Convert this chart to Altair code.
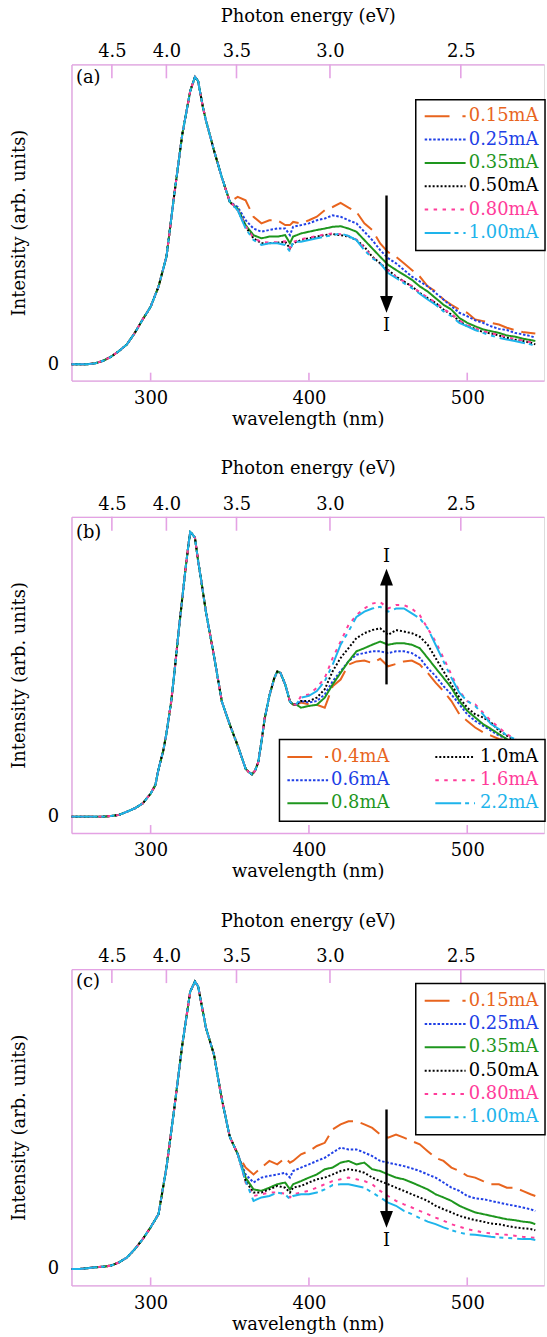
import altair as alt
import pandas as pd

FONT = "DejaVu Serif"
FS = 18
PINK = "#E4A2E4"
COLORS = ["#E8641E", "#2040E6", "#1E961E", "#000000", "#FF3C9A", "#1EB4EB"]
DASHES = [[22, 8], [2.5, 1.8], [1, 0], [2, 2], [3.5, 5.5], [26, 4, 4, 5, 4, 5]]
LEGEND_DASHES = [[25, 13], [2.5, 1.8], [1, 0], [2, 2], [3.5, 5.5], [26, 4, 4, 5, 4, 5]]

ENERGY_TICKS = [4.5, 4.0, 3.5, 3.0, 2.5]
WL_TICKS = [300, 400, 500]
HC = 1239.84

LABELS_AC = ["0.15mA", "0.25mA", "0.35mA", "0.50mA", "0.80mA", "1.00mA"]
LABELS_B = ["0.4mA", "0.6mA", "0.8mA", "1.0mA", "1.6mA", "2.2mA"]

# ---------------- panel (a) ----------------
WL_A_COMMON = [250, 255, 260, 265, 270, 275, 280, 285, 290, 295, 300, 305, 310, 315, 320, 325, 328,
               330, 333, 335, 340, 345, 350]
A_COMMON = [0.0, 0.0, 0.0, 0.003, 0.012, 0.026, 0.046, 0.069, 0.109, 0.156, 0.2, 0.27, 0.374, 0.593,
            0.80, 0.95, 1.0, 0.985, 0.895, 0.847, 0.744, 0.65, 0.565]
WL_A_TAIL = [355, 360, 365, 370, 375, 380, 385, 388, 390, 395, 400, 405, 410, 415, 420, 425, 430, 435,
             440, 445, 450, 455, 460, 465, 470, 475, 480, 485, 490, 495, 500, 505, 510, 515, 520, 525,
             530, 535, 540, 543]
A_015 = [0.582, 0.570, 0.513, 0.490, 0.501, 0.501, 0.484, 0.484, 0.495, 0.490, 0.501, 0.513, 0.536,
         0.547, 0.561, 0.545, 0.530, 0.490, 0.467, 0.42, 0.39, 0.374, 0.351, 0.328, 0.305, 0.271,
         0.253, 0.225, 0.207, 0.190, 0.179, 0.156, 0.150, 0.144, 0.138, 0.127, 0.119, 0.112, 0.109, 0.107]
A_025 = [0.547, 0.501, 0.472, 0.461, 0.467, 0.472, 0.472, 0.449, 0.478, 0.484, 0.490, 0.501, 0.507,
         0.518, 0.513, 0.501, 0.490, 0.461, 0.432, 0.397, 0.369, 0.351, 0.328, 0.305, 0.288, 0.271,
         0.248, 0.225, 0.202, 0.179, 0.167, 0.153, 0.144, 0.132, 0.123, 0.119, 0.109, 0.104, 0.098, 0.092]
A_035 = [0.541, 0.484, 0.449, 0.438, 0.444, 0.444, 0.449, 0.421, 0.444, 0.455, 0.461, 0.467, 0.472,
         0.478, 0.480, 0.472, 0.461, 0.432, 0.403, 0.374, 0.346, 0.328, 0.311, 0.294, 0.271, 0.253,
         0.230, 0.207, 0.190, 0.161, 0.144, 0.132, 0.121, 0.115, 0.109, 0.100, 0.096, 0.089, 0.084, 0.081]
A_050 = [0.536, 0.478, 0.438, 0.421, 0.421, 0.423, 0.426, 0.403, 0.421, 0.432, 0.438, 0.444, 0.449,
         0.453, 0.449, 0.444, 0.432, 0.409, 0.374, 0.351, 0.328, 0.305, 0.288, 0.271, 0.248, 0.230,
         0.213, 0.190, 0.173, 0.150, 0.132, 0.123, 0.112, 0.107, 0.100, 0.092, 0.086, 0.081, 0.075, 0.069]
A_080 = [0.540, 0.480, 0.440, 0.425, 0.423, 0.425, 0.428, 0.405, 0.425, 0.435, 0.440, 0.446, 0.452,
         0.455, 0.452, 0.446, 0.434, 0.405, 0.372, 0.350, 0.326, 0.304, 0.288, 0.272, 0.250, 0.232,
         0.215, 0.192, 0.175, 0.152, 0.136, 0.125, 0.115, 0.108, 0.102, 0.094, 0.088, 0.083, 0.077, 0.072]
A_100 = [0.536, 0.472, 0.432, 0.415, 0.421, 0.421, 0.415, 0.392, 0.426, 0.426, 0.432, 0.438, 0.444,
         0.449, 0.455, 0.446, 0.432, 0.397, 0.369, 0.351, 0.317, 0.300, 0.282, 0.265, 0.245, 0.225,
         0.207, 0.184, 0.167, 0.144, 0.132, 0.119, 0.109, 0.100, 0.092, 0.086, 0.081, 0.075, 0.069, 0.063]

# ---------------- panel (b) ----------------
WL_B_COMMON = [250, 255, 260, 265, 270, 275, 280, 285, 290, 295, 300, 303, 305, 308, 310, 313, 315,
               318, 320, 322, 324, 325, 326, 328, 330, 332, 335, 340, 345, 350, 355, 360, 362, 364,
               366, 368, 370, 372, 375, 378, 380, 382, 385, 388, 390, 392]
B_COMMON = [0, 0, 0, 0, 0, 0.002, 0.006, 0.017, 0.029, 0.046, 0.08, 0.11, 0.165, 0.23, 0.29, 0.40,
            0.50, 0.66, 0.76, 0.86, 0.95, 0.99, 0.985, 0.97, 0.89, 0.82, 0.71, 0.56, 0.40, 0.32,
            0.247, 0.167, 0.155, 0.147, 0.16, 0.19, 0.26, 0.34, 0.42, 0.48, 0.505, 0.50, 0.46,
            0.40, 0.39, 0.39]
WL_B_TAIL = [395, 400, 405, 410, 415, 420, 425, 430, 435, 440, 445, 450, 455, 460, 465, 470, 475,
             480, 485, 490, 495, 500, 505, 510, 515, 520, 525, 530, 535, 540, 545]
B_04 = [0.397, 0.391, 0.389, 0.379, 0.454, 0.477, 0.529, 0.540, 0.543, 0.534, 0.549, 0.523, 0.531,
        0.540, 0.543, 0.529, 0.500, 0.466, 0.437, 0.402, 0.356, 0.333, 0.310, 0.293, 0.282, 0.270,
        0.264, 0.241, 0.224, 0.207, 0.190]
B_06 = [0.402, 0.397, 0.402, 0.425, 0.471, 0.506, 0.540, 0.563, 0.569, 0.575, 0.575, 0.569, 0.575,
        0.575, 0.569, 0.552, 0.517, 0.489, 0.454, 0.425, 0.391, 0.356, 0.333, 0.316, 0.299, 0.282,
        0.270, 0.253, 0.236, 0.218, 0.201]
B_08 = [0.379, 0.385, 0.389, 0.414, 0.460, 0.500, 0.540, 0.575, 0.586, 0.598, 0.609, 0.598, 0.603,
        0.603, 0.598, 0.586, 0.552, 0.517, 0.483, 0.448, 0.402, 0.368, 0.345, 0.322, 0.305, 0.287,
        0.270, 0.253, 0.236, 0.218, 0.201]
B_10 = [0.402, 0.402, 0.414, 0.443, 0.506, 0.552, 0.586, 0.621, 0.638, 0.649, 0.655, 0.632, 0.649,
        0.644, 0.638, 0.626, 0.598, 0.552, 0.506, 0.460, 0.414, 0.379, 0.356, 0.345, 0.328, 0.299,
        0.282, 0.264, 0.247, 0.230, 0.213]
B_16 = [0.420, 0.425, 0.448, 0.483, 0.552, 0.609, 0.667, 0.701, 0.724, 0.741, 0.747, 0.724, 0.736,
        0.736, 0.724, 0.701, 0.655, 0.609, 0.552, 0.494, 0.437, 0.402, 0.391, 0.362, 0.333, 0.310,
        0.287, 0.270, 0.253, 0.236, 0.218]
B_22 = [0.414, 0.420, 0.437, 0.471, 0.529, 0.598, 0.644, 0.695, 0.713, 0.724, 0.730, 0.713, 0.724,
        0.724, 0.707, 0.690, 0.655, 0.598, 0.540, 0.483, 0.431, 0.402, 0.385, 0.356, 0.322, 0.305,
        0.282, 0.270, 0.253, 0.236, 0.218]

# ---------------- panel (c) ----------------
WL_C_COMMON = [250, 255, 260, 265, 270, 275, 280, 285, 290, 295, 300, 305, 310, 315, 320, 325, 328,
               330, 333, 335, 340, 345, 350, 355]
C_COMMON = [0, 0, 0.003, 0.006, 0.008, 0.012, 0.023, 0.040, 0.069, 0.104, 0.145, 0.191, 0.353, 0.561,
            0.780, 0.965, 1.0, 0.983, 0.896, 0.838, 0.746, 0.59, 0.46, 0.40]
WL_C_TAIL = [360, 365, 370, 375, 380, 385, 388, 390, 395, 400, 405, 410, 415, 420, 425, 430, 435,
             440, 445, 450, 455, 460, 465, 470, 475, 480, 485, 490, 495, 500, 505, 510, 515, 520,
             525, 530, 535, 540, 543]
C_015 = [0.353, 0.329, 0.353, 0.376, 0.364, 0.387, 0.370, 0.376, 0.399, 0.410, 0.428, 0.439, 0.486,
         0.503, 0.514, 0.514, 0.503, 0.491, 0.468, 0.457, 0.468, 0.457, 0.445, 0.434, 0.410, 0.387,
         0.376, 0.353, 0.341, 0.324, 0.318, 0.306, 0.295, 0.295, 0.283, 0.283, 0.272, 0.260, 0.254]
C_025 = [0.329, 0.301, 0.318, 0.324, 0.329, 0.335, 0.318, 0.341, 0.353, 0.364, 0.376, 0.387, 0.405,
         0.422, 0.416, 0.416, 0.405, 0.393, 0.376, 0.370, 0.364, 0.358, 0.350, 0.341, 0.329, 0.318,
         0.301, 0.283, 0.272, 0.254, 0.246, 0.243, 0.237, 0.231, 0.225, 0.220, 0.214, 0.208, 0.202]
C_035 = [0.318, 0.277, 0.272, 0.283, 0.295, 0.301, 0.277, 0.295, 0.306, 0.318, 0.329, 0.347, 0.353,
         0.370, 0.376, 0.364, 0.370, 0.347, 0.341, 0.329, 0.318, 0.312, 0.301, 0.289, 0.277, 0.260,
         0.249, 0.237, 0.220, 0.208, 0.197, 0.191, 0.185, 0.179, 0.173, 0.170, 0.165, 0.162, 0.156]
C_050 = [0.306, 0.266, 0.266, 0.277, 0.289, 0.283, 0.266, 0.283, 0.289, 0.301, 0.312, 0.318, 0.329,
         0.341, 0.347, 0.343, 0.335, 0.318, 0.306, 0.295, 0.283, 0.272, 0.260, 0.249, 0.237, 0.220,
         0.208, 0.197, 0.185, 0.177, 0.170, 0.165, 0.158, 0.156, 0.150, 0.145, 0.142, 0.139, 0.135]
C_080 = [0.301, 0.254, 0.260, 0.266, 0.266, 0.262, 0.249, 0.260, 0.266, 0.272, 0.283, 0.295, 0.306,
         0.312, 0.318, 0.312, 0.306, 0.295, 0.272, 0.254, 0.237, 0.225, 0.214, 0.202, 0.191, 0.179,
         0.168, 0.156, 0.147, 0.139, 0.133, 0.127, 0.124, 0.121, 0.119, 0.116, 0.112, 0.110, 0.108]
C_100 = [0.306, 0.237, 0.249, 0.254, 0.266, 0.260, 0.243, 0.254, 0.260, 0.260, 0.266, 0.277, 0.292,
         0.295, 0.295, 0.289, 0.283, 0.266, 0.249, 0.231, 0.220, 0.202, 0.191, 0.177, 0.165, 0.156,
         0.145, 0.135, 0.127, 0.121, 0.119, 0.116, 0.112, 0.110, 0.108, 0.106, 0.104, 0.104, 0.101]

# arrow annotations (shaft start, shaft end, head centre, "I" position) at ARROW_WL
ARROW_WL = 449
ARROW_A = [0.587, 0.23, 0.208, 0.133]
ARROW_B = [0.46, 0.81, 0.833, 0.902]
ARROW_C = [0.555, 0.20, 0.173, 0.099]

# ---------------- layout ----------------
W, H = 476, 318.5
XS = alt.Scale(domain=[250, 548.5], nice=False, zero=False)
YS = alt.Scale(domain=[-0.057, 1.043], nice=False, zero=False)
CS = alt.Scale(domain=list(range(6)), range=COLORS)
DS = alt.Scale(domain=list(range(6)), range=DASHES)
ONE = pd.DataFrame({"a": [0]})
TRI_DOWN = "M-1,-1.3L1,-1.3L0,1.3Z"
TRI_UP = "M-1,1.3L1,1.3L0,-1.3Z"


def long_df(wl_c, v_c, wl_t, tails):
    rows = []
    for k, tail in enumerate(tails):
        for w, v in zip(list(wl_c) + list(wl_t), list(v_c) + list(tail)):
            rows.append({"wl": w, "v": v, "k": k})
    return pd.DataFrame(rows)


def panel(tag, labels, df, box, items, arrow, tag_y, up):
    x_axis = alt.Axis(orient="bottom", values=WL_TICKS, format="d", ticks=False, grid=False,
                      domain=True, domainColor=PINK, domainWidth=1.3,
                      labelFont=FONT, labelFontSize=FS, labelColor="black", labelPadding=9,
                      title="wavelength (nm)", titleFont=FONT, titleFontSize=FS,
                      titleFontWeight="normal", titleColor="black", titlePadding=3)
    y_axis = alt.Axis(values=[0], ticks=False, grid=False, domain=True, domainColor=PINK,
                      domainWidth=1.3, labelFont=FONT, labelFontSize=FS, labelColor="black",
                      labelPadding=13, title="Intensity (arb. units)", titleFont=FONT,
                      titleFontSize=FS, titleFontWeight="normal", titleColor="black",
                      titlePadding=19)
    top_axis = alt.Axis(orient="top", values=[HC / e for e in ENERGY_TICKS],
                        labelExpr="format(1239.84/datum.value, '.1f')", ticks=False, grid=False,
                        domain=True, domainColor=PINK, domainWidth=1.3,
                        labelFont=FONT, labelFontSize=FS, labelColor="black", labelPadding=3.5,
                        title="Photon energy (eV)", titleFont=FONT, titleFontSize=FS,
                        titleFontWeight="normal", titleColor="black", titlePadding=18)

    lines = alt.Chart(df).mark_line(strokeWidth=2).encode(
        x=alt.X("wl:Q", scale=XS, axis=x_axis),
        y=alt.Y("v:Q", scale=YS, axis=y_axis),
        color=alt.Color("k:N", scale=CS, legend=None),
        strokeDash=alt.StrokeDash("k:N", scale=DS, legend=None),
    )

    top_df = pd.DataFrame({"E": ENERGY_TICKS, "nm": [HC / e for e in ENERGY_TICKS]})
    top = alt.Chart(top_df).mark_rule(color=PINK, strokeWidth=1.6).encode(
        x=alt.X("nm:Q", scale=XS, axis=top_axis), y=alt.value(0), y2=alt.value(14))
    bot = alt.Chart(pd.DataFrame({"t": WL_TICKS})).mark_rule(color=PINK, strokeWidth=1.6).encode(
        x=alt.X("t:Q", scale=XS, axis=None), y=alt.value(H), y2=alt.value(H - 8))

    bx0, by0, by1 = box
    layers = [lines, bot, top]
    layers.append(alt.Chart(ONE).mark_rect(fill="white", stroke="black", strokeWidth=1.5).encode(
        x=alt.value(bx0), x2=alt.value(W + 1), y=alt.value(by0), y2=alt.value(by1)))
    for k, (x0, x1, tx, ty) in enumerate(items):
        layers.append(alt.Chart(ONE).mark_rule(strokeWidth=2, color=COLORS[k],
                                               strokeDash=LEGEND_DASHES[k]).encode(
            x=alt.value(x0), x2=alt.value(x1), y=alt.value(ty)))
        layers.append(alt.Chart(ONE).mark_text(align="left", baseline="middle", font=FONT,
                                               fontSize=FS, color=COLORS[k]).encode(
            x=alt.value(tx), y=alt.value(ty), text=alt.value(labels[k])))

    adf = pd.DataFrame({"x": [ARROW_WL], "y1": [arrow[0]], "y2": [arrow[1]],
                        "yh": [arrow[2]], "yi": [arrow[3]]})
    layers.append(alt.Chart(adf).mark_rule(color="black", strokeWidth=2.4).encode(
        x=alt.X("x:Q", scale=XS, axis=None), y=alt.Y("y1:Q", scale=YS, axis=None), y2="y2:Q"))
    layers.append(alt.Chart(adf).mark_point(shape=TRI_UP if up else TRI_DOWN, filled=True,
                                            size=169, color="black", opacity=1).encode(
        x=alt.X("x:Q", scale=XS, axis=None), y=alt.Y("yh:Q", scale=YS, axis=None)))
    layers.append(alt.Chart(adf).mark_text(font=FONT, fontSize=FS, baseline="middle",
                                           color="black").encode(
        x=alt.X("x:Q", scale=XS, axis=None), y=alt.Y("yi:Q", scale=YS, axis=None),
        text=alt.value("I")))
    layers.append(alt.Chart(ONE).mark_text(align="left", baseline="middle", font=FONT,
                                           fontSize=FS, color="black").encode(
        x=alt.value(4.5), y=alt.value(tag_y), text=alt.value(tag)))

    return alt.layer(*layers).resolve_axis(x="independent", y="independent").properties(
        width=W, height=H)


def single_col_items(y0):
    return [(355.8, 397.0, 400.2, y0 + 23.5 * i) for i in range(6)]


items_b = []
for i in range(6):
    col, row = divmod(i, 3)
    if col == 0:
        items_b.append((217.5, 258.5, 261.5, 242 + 23.3 * row))
    else:
        items_b.append((366.5, 406.5, 411.5, 242 + 23.3 * row))

df_a = long_df(WL_A_COMMON, A_COMMON, WL_A_TAIL, [A_015, A_025, A_035, A_050, A_080, A_100])
df_b = long_df(WL_B_COMMON, B_COMMON, WL_B_TAIL, [B_04, B_06, B_08, B_10, B_16, B_22])
df_c = long_df(WL_C_COMMON, C_COMMON, WL_C_TAIL, [C_015, C_025, C_035, C_050, C_080, C_100])

pa = panel("(a)", LABELS_AC, df_a, (346.8, 35.5, 187.5), single_col_items(52.2), ARROW_A, 13.8, False)
pb = panel("(b)", LABELS_B, df_b, (209.5, 224.3, 306.6), items_b, ARROW_B, 16, True)
pc = panel("(c)", LABELS_AC, df_c, (346.8, 14.3, 166.7), single_col_items(31.7), ARROW_C, 13.3, False)

chart = alt.vconcat(pa, pb, pc, spacing=136.7, bounds="flush").properties(
    padding={"left": 10, "top": 2, "right": 0, "bottom": 0}
).configure_view(strokeWidth=0).configure(background="white")

chart.save("out.html", embed_options={"renderer": "svg", "actions": False})
